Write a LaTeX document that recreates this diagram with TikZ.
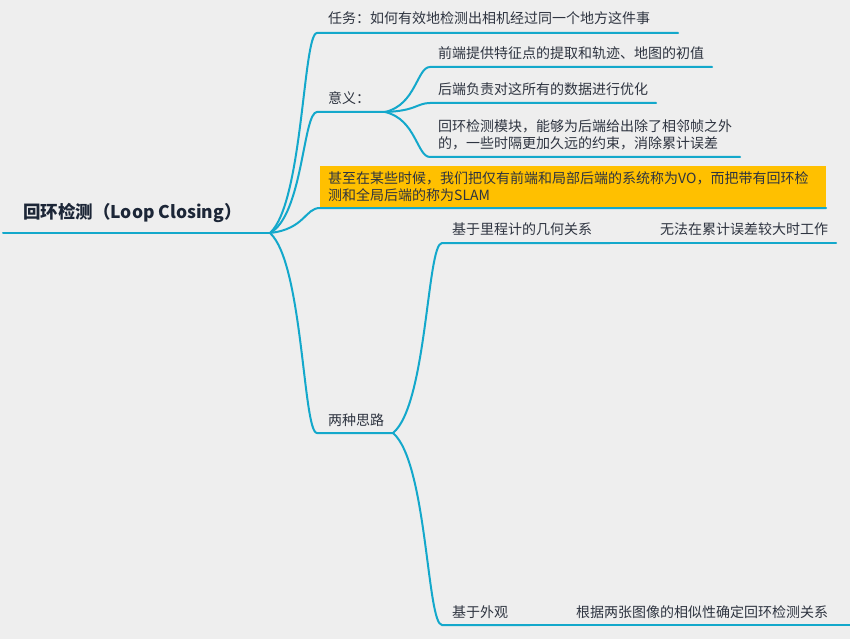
\documentclass[tikz,border=0pt]{standalone}
\usepackage{fontspec}
\setmainfont{Noto Sans CJK SC}
\definecolor{bgGray}{HTML}{EEEEEE}
\definecolor{lineCyan}{HTML}{13A8CB}
\definecolor{boxOrange}{HTML}{FFC000}
\definecolor{txtDark}{HTML}{2E3440}
\definecolor{titleDark}{HTML}{1C2637}

\begin{document}
\begin{tikzpicture}[x=1pt,y=-1pt,
  branch/.style={lineCyan,line width=2pt,line cap=round},
  topic/.style={anchor=base west,inner sep=0pt,text=txtDark,align=left,
    font=\fontsize{14}{17.5}\selectfont}]
\useasboundingbox (0,0) rectangle (850,639);
\fill[bgGray] (0,0) rectangle (850,639);

%\draw[step=50,gray,very thin] (0,0) grid (850,639); %background grid

% highlighted topic
\fill[boxOrange] (320,166) rectangle (826,208);

% root
\coordinate (root-l) at (3,233);
\coordinate (hub) at (270,233);
\node[anchor=base west,inner sep=0pt,text=titleDark,font=\fontsize{17.5}{20}\selectfont\bfseries]
  (title) at (23,218.5) {回环检测（Loop Closing）};

% first level
\coordinate (task-l) at (317,33);   \coordinate (task-r) at (678,33);
\coordinate (yiyi-l) at (317,112);  \coordinate (yiyi-r) at (385,112);
\coordinate (vo-l) at (320,208);    \coordinate (vo-r) at (826,208);
\coordinate (two-l) at (317,433);   \coordinate (two-r) at (393,433);

\node[topic] (task) at (328,24) {任务：如何有效地检测出相机经过同一个地方这件事};
\node[topic] (yiyi) at (328,104) {意义：};
\node[topic] (vo) at (328,200.5) {甚至在某些时候，我们把仅有前端和局部后端的系统称为VO，而把带有回环检\\测和全局后端的称为SLAM};
\node[topic] (two) at (328,425.5) {两种思路};

% under yiyi
\coordinate (front-l) at (430,67);  \coordinate (front-r) at (712,67);
\coordinate (back-l) at (430,103);  \coordinate (back-r) at (656,103);
\coordinate (loop-l) at (430,157);  \coordinate (loop-r) at (740,157);

\node[topic] (front) at (438,58.5) {前端提供特征点的提取和轨迹、地图的初值};
\node[topic] (back) at (438,95) {后端负责对这所有的数据进行优化};
\node[topic] (loop) at (438,149) {回环检测模块，能够为后端给出除了相邻帧之外\\的，一些时隔更加久远的约束，消除累计误差};

% under two
\coordinate (odo-l) at (442,243);   \coordinate (odo-r) at (610,243);
\coordinate (fail-l) at (650,243);  \coordinate (fail-r) at (836,243);
\coordinate (app-l) at (442,625);   \coordinate (app-r) at (530,625);
\coordinate (sim-l) at (565,625);   \coordinate (sim-r) at (850,625);

\node[topic] (odo) at (452,234.5) {基于里程计的几何关系};
\node[topic] (fail) at (660,234.5) {无法在累计误差较大时工作};
\node[topic] (app) at (452,617.5) {基于外观};
\node[topic] (sim) at (576,617.5) {根据两张图像的相似性确定回环检测关系};

% lines
\draw[branch] (root-l) -- (hub);
\draw[branch] (hub) .. controls +(33,-30) and +(-14,0) .. (task-l) -- (task-r);
\draw[branch] (hub) .. controls +(33,-18) and +(-14,0) .. (yiyi-l) -- (yiyi-r);
\draw[branch] (hub) .. controls +(35,-4) and +(-15,0) .. (vo-l) -- (vo-r);
\draw[branch] (hub) .. controls +(33,30) and +(-14,0) .. (two-l) -- (two-r);

\draw[branch] (yiyi-r) .. controls +(31,-7) and +(-13,0) .. (front-l) -- (front-r);
\draw[branch] (yiyi-r) .. controls +(31,-1) and +(-13,0) .. (back-l) -- (back-r);
\draw[branch] (yiyi-r) .. controls +(31,7) and +(-13,0) .. (loop-l) -- (loop-r);

\draw[branch] (two-r) .. controls +(34,-28) and +(-15,0) .. (odo-l) -- (odo-r);
\draw[branch] (odo-r) -- (fail-l) -- (fail-r);
\draw[branch] (two-r) .. controls +(34,29) and +(-15,0) .. (app-l) -- (app-r);
\draw[branch] (app-r) -- (sim-l) -- (sim-r);
\end{tikzpicture}
\end{document}
